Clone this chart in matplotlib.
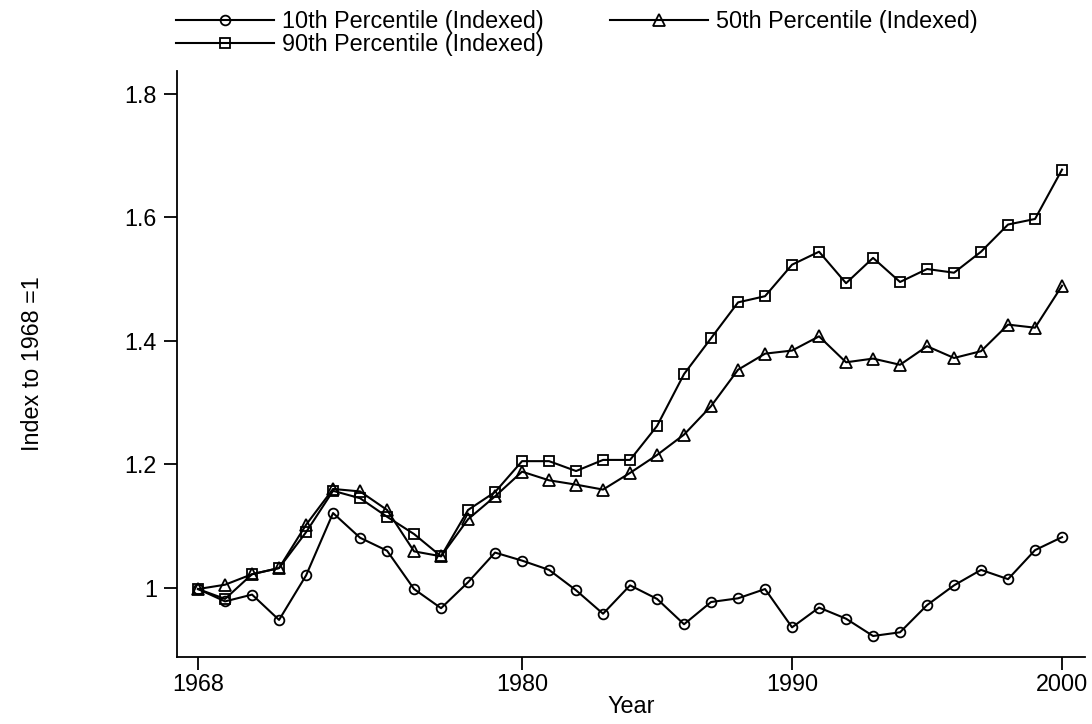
import matplotlib

matplotlib.use("Agg")
import matplotlib.pyplot as plt

plt.rcParams["font.family"] = ["Liberation Sans", "DejaVu Sans"]

# data (index, 1968 = 1)
years = list(range(1968, 2001))
p10 = [0.998, 0.978, 0.989, 0.948, 1.020, 1.121, 1.081, 1.060, 0.998, 0.967,
       1.009, 1.057, 1.044, 1.029, 0.996, 0.958, 1.004, 0.982, 0.941, 0.977,
       0.983, 0.998, 0.936, 0.968, 0.950, 0.922, 0.928, 0.972, 1.004, 1.029,
       1.014, 1.061, 1.082]
p50 = [0.998, 1.005, 1.022, 1.032, 1.102, 1.160, 1.156, 1.126, 1.059, 1.051,
       1.111, 1.148, 1.188, 1.174, 1.167, 1.159, 1.186, 1.215, 1.248, 1.294,
       1.353, 1.379, 1.384, 1.407, 1.365, 1.371, 1.361, 1.391, 1.372, 1.383,
       1.426, 1.421, 1.489]
p90 = [0.998, 0.982, 1.022, 1.032, 1.090, 1.157, 1.145, 1.115, 1.087, 1.051,
       1.126, 1.155, 1.205, 1.205, 1.189, 1.207, 1.207, 1.262, 1.346, 1.404,
       1.462, 1.472, 1.523, 1.544, 1.493, 1.534, 1.495, 1.516, 1.510, 1.544,
       1.588, 1.597, 1.677]

labels = ["10th Percentile (Indexed)", "50th Percentile (Indexed)", "90th Percentile (Indexed)"]
x_ticks = [1968, 1980, 1990, 2000]
y_ticks = [1.0, 1.2, 1.4, 1.6, 1.8]
y_tick_labels = ["1", "1.2", "1.4", "1.6", "1.8"]

FS = 16.8

fig = plt.figure(figsize=(10.92, 7.24), dpi=100)
ax = fig.add_axes([177 / 1092, 1 - 657 / 724, (1085 - 177) / 1092, (657 - 71) / 724])

style = dict(color="black", linewidth=1.5, markerfacecolor="none", markeredgecolor="black", markeredgewidth=1.3)
h10, = ax.plot(years, p10, marker="o", markersize=7.0, label=labels[0], **style)
h50, = ax.plot(years, p50, marker="^", markersize=8.0, label=labels[1], **style)
h90, = ax.plot(years, p90, marker="s", markersize=7.5, label=labels[2], **style)

ax.set_xlim(1967.22, 2000.85)
ax.set_ylim(0.888, 1.8365)
ax.set_xticks(x_ticks)
ax.set_xticklabels([str(y) for y in x_ticks])
ax.set_yticks(y_ticks)
ax.set_yticklabels(y_tick_labels)
for side in ("top", "right"):
    ax.spines[side].set_visible(False)
for side in ("left", "bottom"):
    ax.spines[side].set_linewidth(1.3)
ax.tick_params(axis="both", direction="out", length=9.5, width=1.3, labelsize=FS, pad=2)
ax.tick_params(axis="y", pad=5)
ax.set_xlabel("Year", fontsize=FS, labelpad=-1)
ax.set_ylabel("Index to 1968 =1", fontsize=FS)
ax.yaxis.set_label_coords((44 - 177) / 908, 0.5)

fig.legend(
    handles=[h10, h90, h50],
    loc="upper left",
    bbox_to_anchor=(162 / 1092, 1 + 4 / 724),
    ncol=2,
    frameon=False,
    fontsize=FS,
    handlelength=4.2,
    handletextpad=0.34,
    columnspacing=2.85,
    labelspacing=0.0,
    borderpad=0.1,
)

fig.savefig("out.png", dpi=100)
